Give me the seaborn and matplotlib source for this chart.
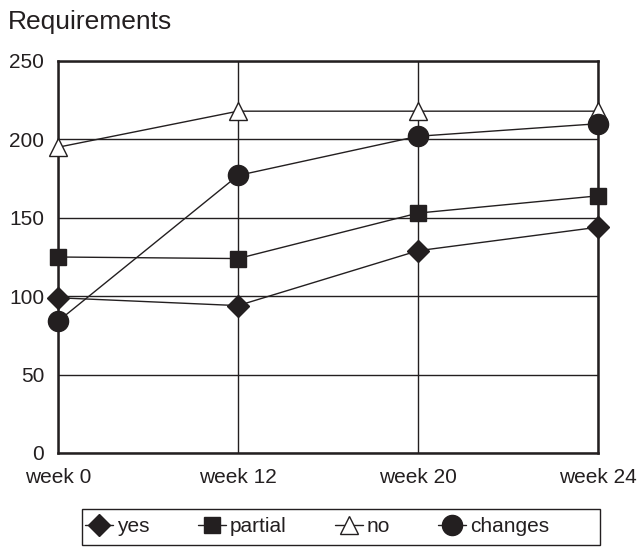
import pandas as pd
import matplotlib.pyplot as plt
from matplotlib.patches import Rectangle
import seaborn as sns

# data
weeks = ['week 0', 'week 12', 'week 20', 'week 24']
yes = [99, 94, 129, 144]
partial = [125, 124, 153, 164]
no = [195, 218, 218, 218]
changes = [84, 177, 202, 210]

df = pd.DataFrame({'week': weeks, 'yes': yes, 'partial': partial,
                   'no': no, 'changes': changes})
long = df.melt(id_vars='week', var_name='series', value_name='value')
long['pos'] = long['week'].map({w: i for i, w in enumerate(weeks)})

sns.set_style('white')
plt.rcParams['font.family'] = ['Liberation Sans', 'DejaVu Sans']

ink = '#231f20'
fig = plt.figure(figsize=(6.43, 5.47), dpi=100)
ax = fig.add_axes([58 / 643, 1 - 453 / 547, 540 / 643, 392 / 547])

styles = {
    'yes': dict(marker='D', markersize=11.5, markerfacecolor=ink),
    'partial': dict(marker='s', markersize=11.5, markerfacecolor=ink),
    'no': dict(marker='^', markersize=12.5, markerfacecolor='white'),
    'changes': dict(marker='o', markersize=14.5, markerfacecolor=ink),
}
for name, st in styles.items():
    sub = long[long['series'] == name]
    sns.lineplot(data=sub, x='pos', y='value', ax=ax, color=ink,
                 linewidth=1, markeredgecolor=ink, markeredgewidth=1,
                 label=name, clip_on=False, zorder=3, **st)

ax.set_xlim(0, 3)
ax.set_ylim(0, 250)
ax.set_xticks(range(4))
ax.set_xticklabels(weeks)
ax.set_yticks(range(0, 251, 50))
ax.grid(True, color=ink, linewidth=1)
ax.set_axisbelow(True)
for sp in ax.spines.values():
    sp.set_visible(True)
    sp.set_color(ink)
    sp.set_linewidth(1.8)
ax.tick_params(axis='both', length=0, labelsize=15, colors=ink)
ax.tick_params(axis='y', pad=10)
ax.tick_params(axis='x', pad=11)
ax.set_xlabel('')
ax.set_ylabel('')

fig.text(8 / 643, 1 - 22 / 547, 'Requirements', fontsize=19, va='center',
         color=ink)

leg = ax.legend(loc='center left', bbox_to_anchor=(85 / 643, 1 - 527 / 547),
                bbox_transform=fig.transFigure, ncol=4, frameon=False,
                fontsize=15, handlelength=1.35, handletextpad=0.2,
                columnspacing=2.3, borderpad=0, borderaxespad=0)
for t in leg.get_texts():
    t.set_color(ink)

# legend box drawn wider than its entries, as in the reference
fig.patches.append(Rectangle((82 / 643, 1 - 545 / 547), 518 / 643, 36 / 547,
                             transform=fig.transFigure, fill=False,
                             edgecolor=ink, linewidth=1))

fig.savefig('out.png', dpi=100)
